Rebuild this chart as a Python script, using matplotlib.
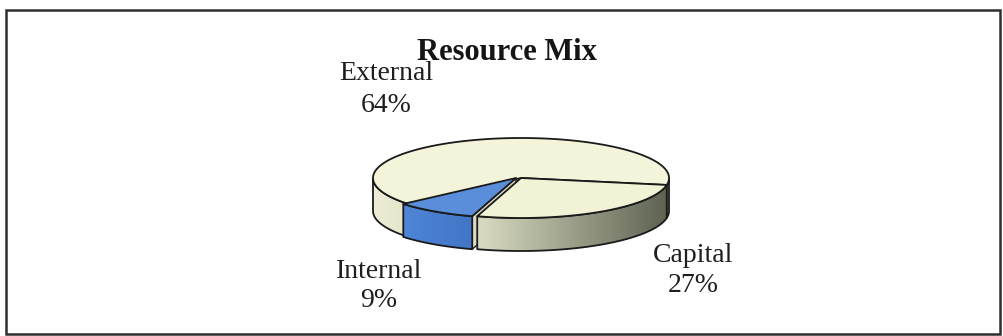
import numpy as np
import matplotlib
matplotlib.use('Agg')
import matplotlib.pyplot as plt
from matplotlib.patches import Polygon, Rectangle
from matplotlib.colors import to_rgb

# ---- data ----
categories = ['Capital', 'Internal', 'External']   # clockwise order
values = [27, 9, 64]                                # percent
title = 'Resource Mix'

# ---- style ----
W, H = 1004, 336
fig = plt.figure(figsize=(W / 100, H / 100), dpi=100)
ax = fig.add_axes([0, 0, 1, 1])
ax.set_xlim(0, W)
ax.set_ylim(H, 0)
ax.axis('off')

cx, cy, a, b, h = 521, 178, 148, 40, 33
start = -10.0
explode = {'Internal': (-5, 0)}
top_col = {'Capital': '#F2F2D6', 'Internal': '#5A8EDA', 'External': '#F4F4DA'}
wall_cols = {'Capital': ('#DADCC2', '#5E6352'),
             'Internal': ('#4E86D8', '#4275C6'),
             'External': ('#EEEED6', '#E4E4CA')}
# (x centre, baseline of first line, baseline of second line)
label_pos = {'External': (386, 80, 112), 'Internal': (379, 278, 307), 'Capital': (693, 262, 292)}


def pt(t, dx=0.0, dy=0.0, z=0.0):
    r = np.radians(t)
    return np.column_stack([cx + dx + a * np.cos(r), cy + dy - b * np.sin(r) + z])


def gradient_fill(poly_xy, c0, c1, zorder):
    x0, x1 = poly_xy[:, 0].min(), poly_xy[:, 0].max()
    y0, y1 = poly_xy[:, 1].min(), poly_xy[:, 1].max()
    n = 256
    c0, c1 = np.array(to_rgb(c0)), np.array(to_rgb(c1))
    f = np.linspace(0, 1, n)
    img = (c0[None, :] * (1 - f[:, None]) + c1[None, :] * f[:, None])[None, :, :]
    img = np.repeat(img, 2, axis=0)
    patch = Polygon(poly_xy, closed=True, facecolor='none', edgecolor='none')
    ax.add_patch(patch)
    im = ax.imshow(img, extent=(x0, x1, y1, y0), aspect='auto', zorder=zorder,
                   interpolation='bilinear')
    im.set_clip_path(patch)
    ax.add_patch(Polygon(poly_xy, closed=True, facecolor='none', edgecolor='#1a1a1a',
                         lw=1.3, zorder=zorder + 0.1, joinstyle='round'))


# compute slice angles
slices = []
t = start
for name, v in zip(categories, values):
    t2 = t - 360.0 * v / 100.0
    slices.append((name, v, t, t2))
    t = t2


def front_ranges(t1, t2):
    lo, hi = min(t1, t2), max(t1, t2)
    out = []
    for k in range(-3, 3):
        fl, fh = -180 + 360 * k, 0 + 360 * k
        l, u = max(lo, fl), min(hi, fh)
        if u > l:
            out.append((l, u))
    return out


def draw_slice(name, t1, t2, z):
    dx, dy = explode.get(name, (0, 0))
    c0, c1 = wall_cols[name]
    if name in explode:
        p = pt(t1, dx, dy)[0]
        face = np.array([[cx + dx, cy + dy], p, p + [0, h], [cx + dx, cy + dy + h]])
        ax.add_patch(Polygon(face, closed=True, facecolor='#D9DAC8', edgecolor='#1a1a1a',
                             lw=1.0, zorder=z - 2))
    for (l, u) in front_ranges(t1, t2):
        ts = np.linspace(u, l, 120)
        topa = pt(ts, dx, dy)
        bot = pt(ts[::-1], dx, dy, h)
        poly = np.vstack([topa, bot])
        gradient_fill(poly, c0, c1, z + 0.2)
    ts = np.linspace(t1, t2, 200)
    topface = np.vstack([[cx + dx, cy + dy], pt(ts, dx, dy)])
    ax.add_patch(Polygon(topface, closed=True, facecolor=top_col[name], edgecolor='#1a1a1a',
                         lw=1.3, zorder=z + 0.5, joinstyle='round'))


order = {'External': 2, 'Capital': 3, 'Internal': 5}
for name, v, t1, t2 in slices:
    draw_slice(name, t1, t2, order[name])

# labels
for name, v, t1, t2 in slices:
    x, y1, y2 = label_pos[name]
    ax.text(x, y1, name, ha='center', va='baseline', fontsize=20,
            family='Liberation Serif', color='#1e1e1e', zorder=10)
    ax.text(x, y2, f'{v}%', ha='center', va='baseline', fontsize=20,
            family='Liberation Serif', color='#1e1e1e', zorder=10)

ax.text(507, 60, title, ha='center', va='baseline', fontsize=22, fontweight='bold',
        family='Liberation Serif', color='#151515', zorder=10)

# frame
ax.add_patch(Rectangle((6, 10), 994, 324, facecolor='none', edgecolor='#2e2e2e',
                       lw=1.8, zorder=11))

ax.set_xlim(0, W)
ax.set_ylim(H, 0)
fig.savefig('out.png', dpi=100, facecolor='white')
